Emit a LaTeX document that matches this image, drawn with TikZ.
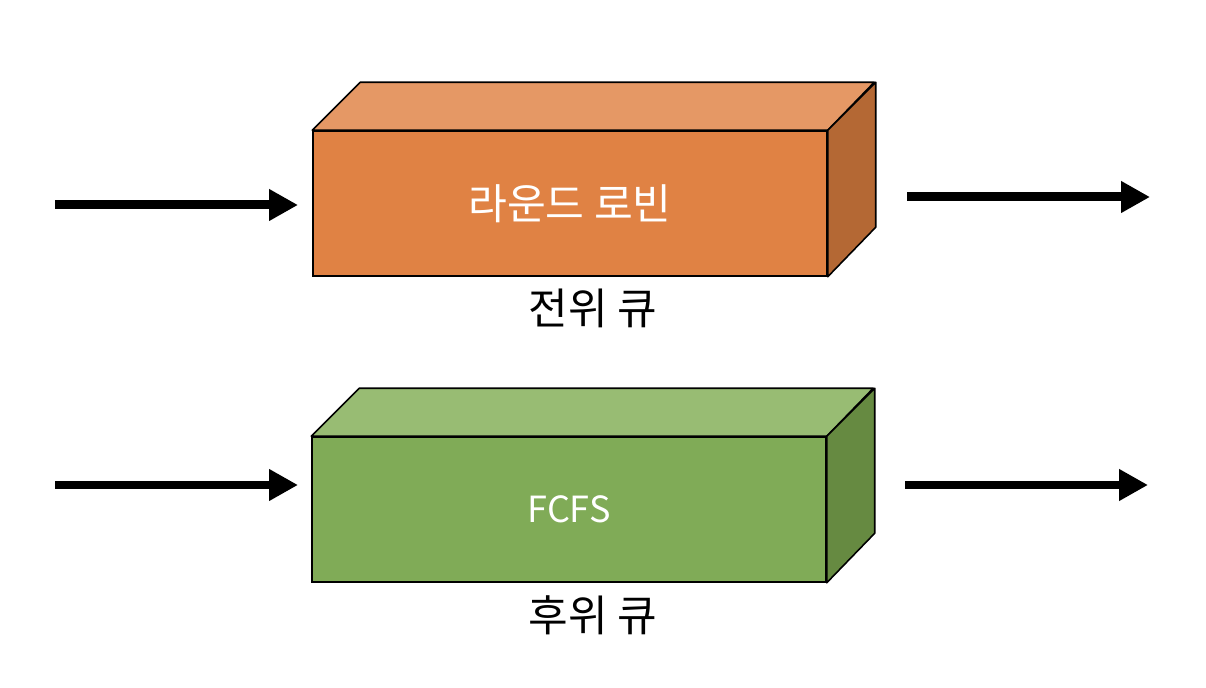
\documentclass[tikz,border=0pt]{standalone}
\usepackage{fontspec}
\setmainfont{Noto Sans CJK KR}
\usetikzlibrary{positioning,arrows.meta,calc}
\definecolor{rrfront}{HTML}{E08244}
\definecolor{rrtop}{HTML}{E59865}
\definecolor{rrside}{HTML}{B46834}
\definecolor{fcfront}{HTML}{80AB57}
\definecolor{fctop}{HTML}{98BC73}
\definecolor{fcside}{HTML}{668A41}
\tikzset{qfront/.style={draw, line width=0.9pt, minimum width=10.28cm, minimum height=2.9cm, inner sep=0pt, text=white, font=\fontsize{24}{28}\selectfont}}
\tikzset{qface/.style={draw, line width=0.9pt, line join=round}}
\tikzset{flow/.style={draw, line width=0.18cm, -{Triangle[length=0.58cm, width=0.6cm]}}}
\tikzset{qlabel/.style={font=\fontsize{24.5}{28}\selectfont}}
\begin{document}
\begin{tikzpicture}[x=0.02cm, y=-0.02cm]
			\useasboundingbox (0,0) rectangle (1206,688);
			% front queue
			\node[qfront, fill=rrfront] (rr) at (570,203.5) {라운드 로빈};
			\draw[qface, fill=rrtop] (rr.north west) -- ++(48,-48) -- ++(514,0)
				-- (rr.north east) -- cycle;
			\draw[qface, fill=rrside] (rr.north east) -- ++(48,-48) -- ++(0,145)
				-- (rr.south east) -- cycle;
			\node[qlabel] (rrlab) at (593,308) {전위 큐};
			%
			% back queue
			\node[qfront, fill=fcfront, font=\fontsize{20.5}{25}\selectfont] (fc) at (569,509.5) {FCFS};
			\draw[qface, fill=fctop] (fc.north west) -- ++(48,-48) -- ++(514,0)
				-- (fc.north east) -- cycle;
			\draw[qface, fill=fcside] (fc.north east) -- ++(48,-48) -- ++(0,145)
				-- (fc.south east) -- cycle;
			\node[qlabel] (fclab) at (593,615) {후위 큐};
			%
			\coordinate (rrin) at (55,205);
			\coordinate (rrinend) at (298,205);
			\coordinate (rrout) at (907,197);
			\coordinate (rroutend) at (1150,197);
			\coordinate (fcin) at (55,485);
			\coordinate (fcinend) at (298,485);
			\coordinate (fcout) at (905,485);
			\coordinate (fcoutend) at (1148,485);
			\draw[flow] (rrin) -- (rrinend);
			\draw[flow] (rrout) -- (rroutend);
			\draw[flow] (fcin) -- (fcinend);
			\draw[flow] (fcout) -- (fcoutend);
		\end{tikzpicture}
\end{document}
